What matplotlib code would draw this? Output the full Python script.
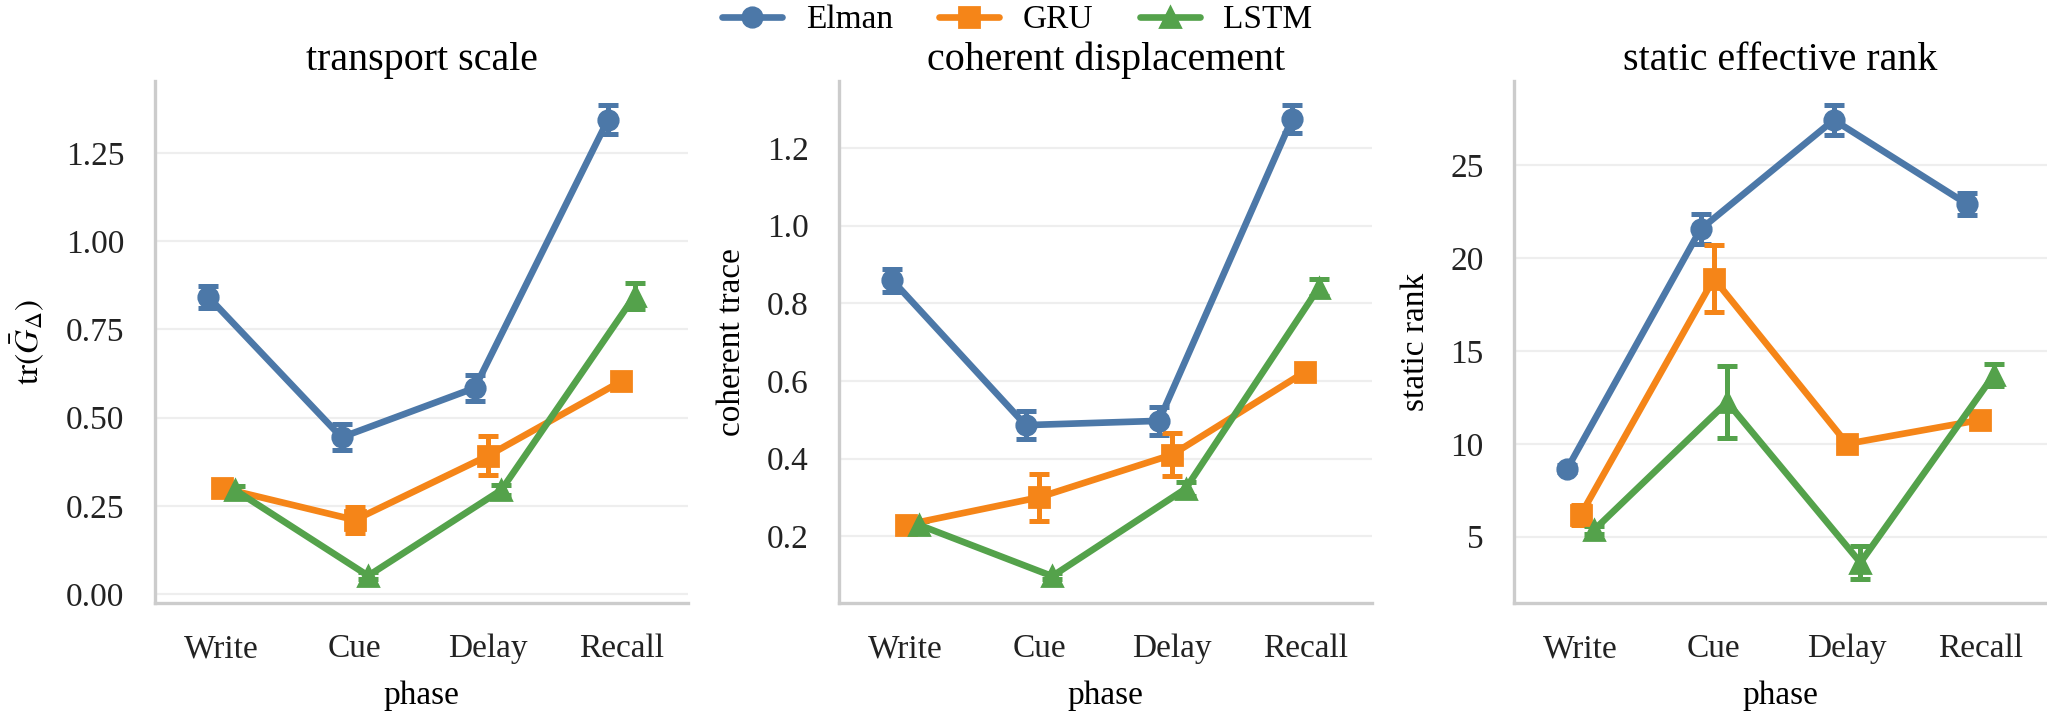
import numpy as np
import matplotlib
matplotlib.use("Agg")
import matplotlib.pyplot as plt
from matplotlib.lines import Line2D

plt.rcParams['font.family'] = ['Liberation Serif', 'DejaVu Serif']
plt.rcParams['mathtext.fontset'] = 'stix'
plt.rcParams['font.size'] = 12

phases = ["Write", "Cue", "Delay", "Recall"]
models = ["Elman", "GRU", "LSTM"]
colors = {"Elman": "#4C78A8", "GRU": "#F58518", "LSTM": "#54A24B"}
markers = {"Elman": "o", "GRU": "s", "LSTM": "^"}

# transport scale: tr(G_bar_Delta)
transport_mean = {
    "Elman": [0.842, 0.444, 0.584, 1.344],
    "GRU": [0.301, 0.210, 0.392, 0.603],
    "LSTM": [0.295, 0.052, 0.295, 0.845],
}
transport_err = {
    "Elman": [0.032, 0.037, 0.038, 0.042],
    "GRU": [0.020, 0.036, 0.056, 0.015],
    "LSTM": [0.012, 0.010, 0.015, 0.037],
}

# coherent displacement
coherent_mean = {
    "Elman": [0.859, 0.486, 0.497, 1.275],
    "GRU": [0.229, 0.300, 0.410, 0.624],
    "LSTM": [0.229, 0.097, 0.322, 0.840],
}
coherent_err = {
    "Elman": [0.030, 0.036, 0.036, 0.036],
    "GRU": [0.010, 0.061, 0.055, 0.015],
    "LSTM": [0.010, 0.008, 0.018, 0.022],
}

# static effective rank
rank_mean = {
    "Elman": [8.66, 21.56, 27.45, 22.92],
    "GRU": [6.16, 18.90, 10.00, 11.29],
    "LSTM": [5.35, 12.25, 3.60, 13.70],
}
rank_err = {
    "Elman": [0.20, 0.80, 0.82, 0.58],
    "GRU": [0.55, 1.82, 0.20, 0.25],
    "LSTM": [0.20, 1.95, 0.90, 0.60],
}

panels = [
    ("transport scale", r"$\mathrm{tr}(\bar{G}_{\Delta})$", transport_mean, transport_err, [0.0, 0.25, 0.5, 0.75, 1.0, 1.25], "{:.2f}"),
    ("coherent displacement", "coherent trace", coherent_mean, coherent_err, [0.2, 0.4, 0.6, 0.8, 1.0, 1.2], "{:.1f}"),
    ("static effective rank", "static rank", rank_mean, rank_err, [5, 10, 15, 20, 25], "{:d}"),
]

fig = plt.figure(figsize=(10.235, 3.595), dpi=200)
lefts = [0.0757, 0.4099, 0.7396]
width = 0.2604
bottom = 0.1613
height = 0.8873 - 0.1613

offsets = {"Elman": -0.1, "GRU": 0.0, "LSTM": 0.1}
x = np.arange(len(phases))

for left, (title, ylabel, means, errs, yticks, fmt) in zip(lefts, panels):
    ax = fig.add_axes([left, bottom, width, height])
    for m in models:
        ax.errorbar(x + offsets[m], means[m], yerr=errs[m], color=colors[m],
                    marker=markers[m], markersize=7.0, linewidth=2.4,
                    elinewidth=1.8, capsize=3.6, capthick=1.8, zorder=3)
    ax.set_xlim(-0.5, 3.5)
    ax.set_xticks(x)
    ax.set_xticklabels(phases)
    ax.set_yticks(yticks)
    ax.set_yticklabels([fmt.format(v) for v in yticks])
    ax.set_title(title, pad=4)
    ax.set_xlabel("phase", labelpad=6)
    ax.set_ylabel(ylabel, labelpad=7)
    ax.grid(axis='y', color='#eeeeee', linewidth=0.8, zorder=0)
    ax.set_axisbelow(True)
    for s in ["top", "right"]:
        ax.spines[s].set_visible(False)
    for s in ["left", "bottom"]:
        ax.spines[s].set_color('#cccccc')
        ax.spines[s].set_linewidth(1.2)
    ax.tick_params(axis='both', length=0, pad=11, colors='#222222')

handles = [Line2D([], [], color=colors[m], marker=markers[m], markersize=7.0,
                  linewidth=2.4, solid_capstyle='round') for m in models]
fig.legend(handles, models, loc='upper center', bbox_to_anchor=(0.497, 1.035), ncol=3,
           frameon=False, handlelength=1.8, handletextpad=0.7, columnspacing=1.4)

fig.savefig("out.png", dpi=200)
